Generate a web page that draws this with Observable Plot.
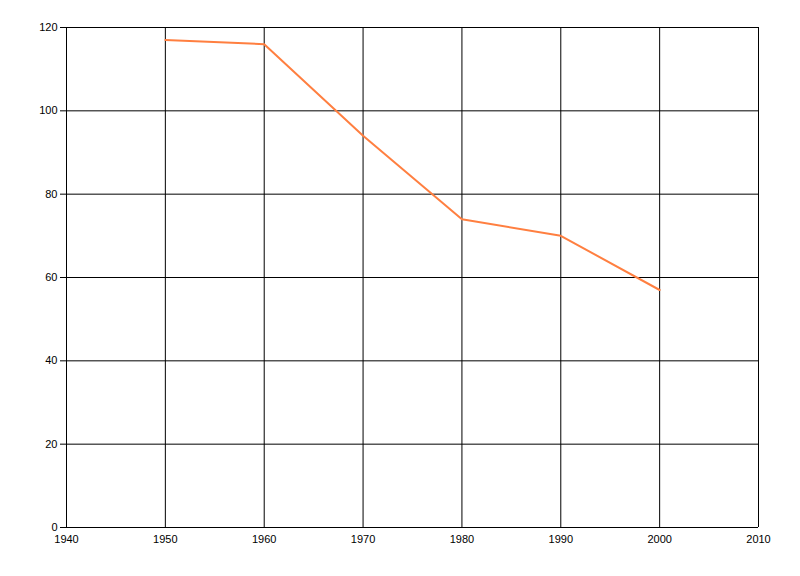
<!DOCTYPE html>
<html>
<head>
<meta charset="utf-8">
<script src="https://cdn.jsdelivr.net/npm/d3@7"></script>
<script src="https://cdn.jsdelivr.net/npm/@observablehq/plot@0.6"></script>
<style>
  html, body { margin: 0; padding: 0; background: #fff; }
  #chart { width: 800px; height: 576px; }
</style>
</head>
<body>
<div id="chart"></div>
<script>
const years = [1950, 1960, 1970, 1980, 1990, 2000];
const values = [117, 116, 94, 74, 70, 57];
const xTicks = [1940, 1950, 1960, 1970, 1980, 1990, 2000, 2010];
const yTicks = [0, 20, 40, 60, 80, 100, 120];

const data = years.map((y, i) => ({year: y, value: values[i]}));

const chart = Plot.plot({
  width: 800,
  height: 576,
  marginLeft: 66,
  marginRight: 42,
  marginTop: 27,
  marginBottom: 49,
  style: {fontFamily: "'Liberation Sans', Arial, sans-serif", fontSize: "11px", color: "#000", background: "#fff"},
  x: {domain: [1940, 2010], ticks: xTicks, tickFormat: d => String(d), label: null, tickSize: 0, tickPadding: 8},
  y: {domain: [0, 120], ticks: yTicks, label: null, tickSize: 6, tickPadding: 3},
  marks: [
    Plot.gridX(xTicks, {stroke: "#000", strokeOpacity: 1, strokeWidth: 1}),
    Plot.gridY(yTicks, {stroke: "#000", strokeOpacity: 1, strokeWidth: 1}),
    Plot.axisY({ticks: yTicks, tickSize: 6, tickPadding: 3, label: null, stroke: "#000"}),
    Plot.axisX({ticks: xTicks, tickSize: 0, tickPadding: 8, tickFormat: d => String(d), label: null}),
    Plot.ruleX([1940], {stroke: "#000"}),
    Plot.ruleY([0], {stroke: "#000"}),
    Plot.line(data, {x: "year", y: "value", stroke: "#FF7F40", strokeWidth: 2})
  ]
});
document.getElementById("chart").appendChild(chart);
</script>
</body>
</html>
